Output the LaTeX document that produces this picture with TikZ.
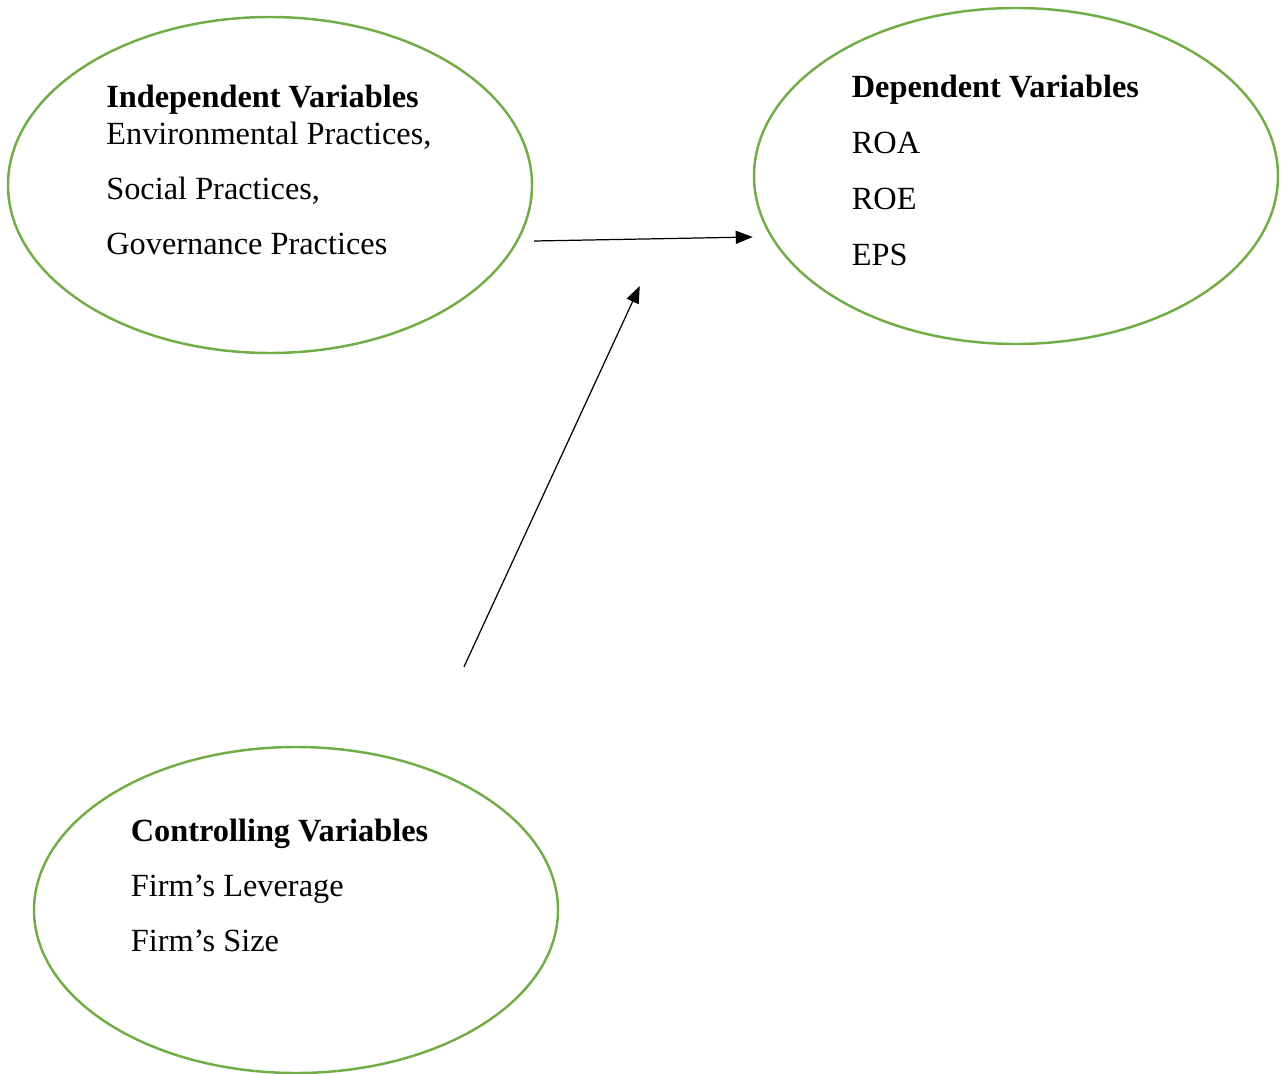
\documentclass[tikz,border=0pt]{standalone}
\usepackage{fontspec}
\setmainfont{Liberation Serif}
\usepackage{tikz}
\usepackage{xcolor}
\usetikzlibrary{shapes.geometric, arrows.meta, positioning, calc}
\definecolor{cOval}{RGB}{112,173,71}
\tikzset{
	oval/.style={ellipse, draw=cOval, line width=1.4pt, minimum width=10.48cm, minimum height=6.72cm, inner sep=0pt},
	vhead/.style={anchor=base west, inner sep=0pt, font=\fontsize{18.4}{22}\selectfont\bfseries},
	vitem/.style={anchor=base west, inner sep=0pt, font=\fontsize{18.4}{22}\selectfont},
	flowarrow/.style={-{Triangle[length=3.4mm, width=2.6mm]}, line width=0.7pt},
}
\begin{document}
\begin{tikzpicture}
			\useasboundingbox (0,0) rectangle (25.66,-21.48);
			% the three ovals
			\node[oval] (indep) at (5.40,-3.70) {};
			\node[oval] (dep) at (20.32,-3.52) {};
			\node[oval, minimum height=6.52cm] (ctrl) at (5.92,-18.20) {};
			% texts
			\node[vhead] (ih) at (2.12,-2.16) {Independent Variables};
			\foreach \txt/\idx in {{Environmental Practices,}/0, {Social Practices,}/1, {Governance Practices}/2} {
				\node[vitem] (i\idx) at (2.12,-2.88-\idx*1.10) {\txt};
			}
			\node[vhead] (dh) at (17.03,-1.96) {Dependent Variables};
			\foreach \txt/\idx in {ROA/0, ROE/1, EPS/2} {
				\node[vitem] (d\idx) at (17.03,-3.08-\idx*1.11) {\txt};
			}
			\node[vhead] (ch) at (2.61,-16.82) {Controlling Variables};
			\foreach \txt/\idx in {{Firm’s Leverage}/0, {Firm’s Size}/1} {
				\node[vitem] (c\idx) at (2.61,-17.93-\idx*1.10) {\txt};
			}
			% arrows
			\draw[flowarrow] ([shift={(0.02,-1.12)}]indep.east) -- ([shift={(0,-1.22)}]dep.west);
			\draw[flowarrow] ([shift={(3.36,1.58)}]ctrl.north) -- ([shift={(-2.26,-2.20)}]dep.west);
		\end{tikzpicture}
\end{document}
